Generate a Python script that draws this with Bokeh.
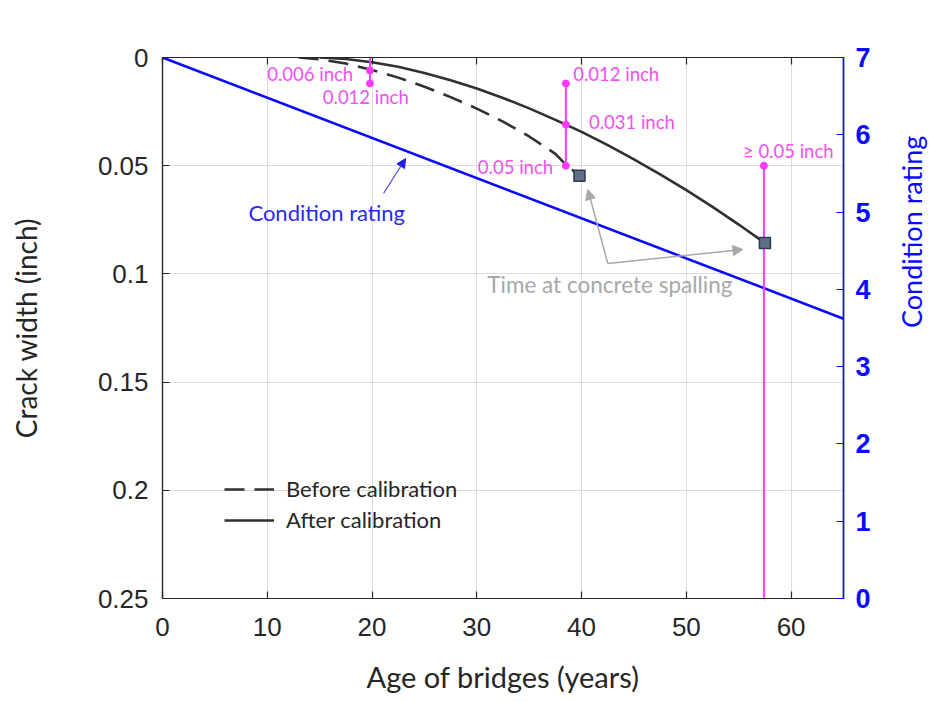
import math
from bokeh.plotting import figure
from bokeh.models import (Range1d, LinearAxis, FixedTicker, Arrow, NormalHead,
                          Legend, LegendItem, Label)
from bokeh.embed import file_html
from bokeh.resources import INLINE

# ---------------- data ----------------
x_ticks = [0, 10, 20, 30, 40, 50, 60]
y_ticks = [0, 0.05, 0.1, 0.15, 0.2, 0.25]
y_tick_labels = ["0", "0.05", "0.1", "0.15", "0.2", "0.25"]
cr_ticks = [0, 1, 2, 3, 4, 5, 6, 7]

# crack width before calibration (dashed)
before_age = [13.0, 15.0, 17.5, 20.0, 22.5, 25.0, 27.5, 30.0, 32.5, 35.0, 37.5, 38.5, 39.8]
before_cw = [0.0, 0.0008, 0.0028, 0.0058, 0.0093, 0.0135, 0.0183, 0.0236, 0.0296, 0.0365, 0.0445, 0.0495, 0.0546]

# crack width after calibration (solid)
after_age = [15.0, 17.5, 20.0, 22.5, 25.0, 27.5, 30.0, 32.5, 35.0, 37.5, 38.5, 40.0, 42.5,
             45.0, 47.5, 50.0, 52.5, 55.0, 57.5]
after_cw = [0.0, 0.0007, 0.0022, 0.0043, 0.0072, 0.0105, 0.0143, 0.0187, 0.0235, 0.0288, 0.031,
            0.0344, 0.0405, 0.0471, 0.054, 0.0613, 0.069, 0.0772, 0.0857]

# condition rating (right axis)
cr_age = [0.0, 65.0]
cr_value = [7.0, 3.62]

# time at concrete spalling
spall_age = [39.8, 57.5]
spall_cw = [0.0546, 0.0857]

# magenta crack-width markers
seg_age = [19.8, 38.5, 57.4]
seg_top = [0.0, 0.012, 0.05]
seg_bot = [0.012, 0.05, 0.25]
dot_age = [19.8, 19.8, 38.5, 38.5, 38.5, 57.4]
dot_cw = [0.006, 0.012, 0.012, 0.031, 0.05, 0.05]

# ---------------- style ----------------
BLACK = "#262626"
BLUE = "#0a0aff"
PINK = "#ff38ff"
PINK_TXT = "#f050f0"
GREY = "#a8a8a8"
NUM_FONT = "Liberation Sans"
TXT_FONT = "Lato"

p = figure(width=948, height=702, output_backend="svg", toolbar_location=None,
           x_range=Range1d(0, 65), y_range=Range1d(0.25, 0),
           min_border_left=162, min_border_right=105, min_border_top=57, min_border_bottom=104,
           x_axis_location=None, y_axis_location=None)
p.background_fill_color = "white"
p.border_fill_color = "white"
p.outline_line_color = BLACK
p.outline_line_width = 1.2
p.extra_y_ranges = {"cr": Range1d(0, 7)}

# axes
xaxis = LinearAxis(ticker=FixedTicker(ticks=x_ticks), axis_label="Age of bridges (years)")
yaxis = LinearAxis(ticker=FixedTicker(ticks=y_ticks), axis_label="Crack width (inch)",
                   major_label_overrides={t: l for t, l in zip(y_ticks, y_tick_labels)})
topaxis = LinearAxis(ticker=FixedTicker(ticks=x_ticks), major_label_text_alpha=0)
raxis = LinearAxis(y_range_name="cr", ticker=FixedTicker(ticks=cr_ticks), axis_label="Condition rating")

for ax in (xaxis, yaxis, topaxis, raxis):
    ax.major_tick_in = 7
    ax.major_tick_out = 0
    ax.minor_tick_line_color = None
    ax.axis_line_width = 1.2
    ax.major_tick_line_width = 1.2
    ax.major_label_text_font = NUM_FONT
    ax.major_label_text_font_size = "26px"
    ax.axis_label_text_font = TXT_FONT
    ax.axis_label_text_font_size = "28px"
    ax.axis_label_text_font_style = "normal"

for ax in (xaxis, yaxis, topaxis):
    ax.axis_line_color = BLACK
    ax.major_tick_line_color = BLACK
    ax.major_label_text_color = BLACK
    ax.axis_label_text_color = BLACK

raxis.axis_line_color = BLUE
raxis.axis_line_width = 1.6
raxis.major_tick_line_color = BLUE
raxis.major_label_text_color = BLUE
raxis.axis_label_text_color = BLUE
raxis.major_label_text_font_size = "27px"
raxis.major_label_text_font_style = "bold"
raxis.major_label_standoff = 12
raxis.axis_label_standoff = 38
raxis.axis_label_text_font_size = "27px"
if "axis_label_orientation" in LinearAxis.properties():
    raxis.axis_label_orientation = math.pi / 2
    raxis.axis_label_text_align = "center"
    raxis.axis_label_text_baseline = "middle"

xaxis.major_label_standoff = 19
xaxis.axis_label_text_font_size = "29px"
xaxis.axis_label_standoff = 20
yaxis.major_label_standoff = 14
yaxis.axis_label_standoff = 52

p.add_layout(xaxis, "below")
p.add_layout(yaxis, "left")
p.add_layout(topaxis, "above")
p.add_layout(raxis, "right")

p.xgrid.ticker = FixedTicker(ticks=x_ticks)
p.ygrid.ticker = FixedTicker(ticks=y_ticks)
p.grid.grid_line_color = "#dcdcdc"
p.grid.grid_line_width = 1

# condition rating line
p.line(cr_age, cr_value, y_range_name="cr", line_color=BLUE, line_width=2.6)

# crack curves
r_before = p.line(before_age, before_cw, line_color="#303030", line_width=2.6, line_dash="20 10")
r_after = p.line(after_age, after_cw, line_color="#303030", line_width=2.6)

# magenta markers
p.segment(x0=seg_age, y0=seg_top, x1=seg_age, y1=seg_bot, line_color=PINK, line_width=2)
p.scatter(dot_age, dot_cw, size=7, marker="circle", fill_color=PINK, line_color=PINK)

# spalling squares
p.scatter(spall_age, spall_cw, size=11, marker="square", fill_color="#5e6f86", line_color="#2c3a50",
          line_width=1.5)

# text annotations
def lab(x, y, text, color, size, align="left"):
    p.add_layout(Label(x=x, y=y, text=text, text_color=color, text_font=TXT_FONT,
                       text_font_size=size, text_align=align, text_baseline="middle"))

lab(18.2, 0.0074, "0.006 inch", PINK_TXT, "18.5px", "right")
lab(15.3, 0.0182, "0.012 inch", PINK_TXT, "18.5px")
lab(39.2, 0.0074, "0.012 inch", PINK_TXT, "18.5px")
lab(40.7, 0.0296, "0.031 inch", PINK_TXT, "18.5px")
lab(30.1, 0.0508, "0.05 inch", PINK_TXT, "18.5px")
lab(55.4, 0.0430, "\u2265 0.05 inch", PINK_TXT, "18.5px")
lab(8.2, 0.0716, "Condition rating", "#2a2af0", "22px")
lab(31.0, 0.1050, "Time at concrete spalling", GREY, "22.5px")

# arrows
p.add_layout(Arrow(x_start=21.1, y_start=0.0628, x_end=23.2, y_end=0.0467,
                   line_color="#5a5ae8", line_width=1.2,
                   end=NormalHead(size=9, fill_color="#2020e0", line_color="#2020e0")))
p.add_layout(Arrow(x_start=42.5, y_start=0.0952, x_end=40.6, y_end=0.0610,
                   line_color=GREY, line_width=1.5,
                   end=NormalHead(size=10, fill_color=GREY, line_color=GREY)))
p.add_layout(Arrow(x_start=42.5, y_start=0.0952, x_end=55.4, y_end=0.0887,
                   line_color=GREY, line_width=1.5,
                   end=NormalHead(size=10, fill_color=GREY, line_color=GREY)))

# legend
legend = Legend(items=[LegendItem(label="Before calibration", renderers=[r_before]),
                       LegendItem(label="After calibration", renderers=[r_after])],
                location=(62, 65), glyph_width=50, glyph_height=20, label_height=20,
                spacing=4, padding=0, margin=0, label_standoff=12,
                label_text_font=TXT_FONT, label_text_font_size="22px", label_text_color=BLACK,
                background_fill_alpha=0, border_line_color=None)
p.add_layout(legend)

open("out.html", "w").write(file_html(p, INLINE))
